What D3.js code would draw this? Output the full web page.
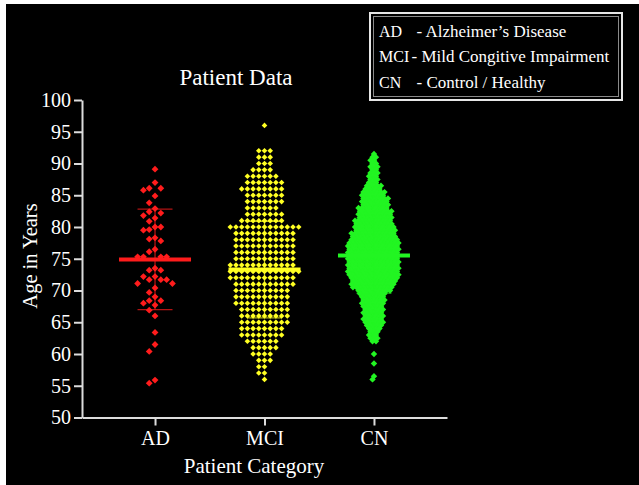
<!DOCTYPE html>
<html>
<head>
<meta charset="utf-8">
<script src="https://cdn.jsdelivr.net/npm/d3@7"></script>
<style>
  body { margin: 0; background: #fff; }
  svg { display: block; font-family: "Liberation Serif", "Times New Roman", serif; }
</style>
</head>
<body>
<svg id="chart"></svg>
<script>
'use strict';

// data
const categories = ["AD", "MCI", "CN"];

const adAges = [89.1, 87.0, 86.1, 86.1, 85.8, 84.9, 83.8, 82.9, 82.4, 82.2, 81.8, 81.4, 80.9,
  80.0, 80.0, 79.6, 79.5, 78.3, 78.1, 77.8, 76.5, 76.1, 75.3, 75.3, 75.3, 75.3, 73.5,
  73.2, 73.2, 72.2, 72.2, 71.7, 71.7, 71.7, 71.1, 71.1, 70.4, 69.7, 69.0, 68.4, 68.4,
  68.0, 67.7, 66.9, 66.0, 63.4, 61.5, 60.4, 55.9, 55.4];

// MCI: age (years) and number of patients at that age
const mciAges = [96, 92, 91, 90, 89, 88, 87, 86, 85, 84, 83, 82, 81, 80, 79, 78, 77, 76, 75,
  74, 73, 72, 71, 70, 69, 68, 67, 66, 65, 64, 63, 62, 61, 60, 59, 58, 57, 56];
const mciCounts = [1, 3, 3, 3, 4, 6, 7, 8, 7, 7, 6, 7, 8, 13, 11, 11, 11, 11, 11,
  12, 13, 12, 11, 10, 10, 10, 9, 9, 9, 8, 8, 6, 5, 4, 3, 2, 2, 1];

// CN: half-year ages and counts
const cnAges = [91.5, 91, 90.5, 90, 89.5, 89, 88.5, 88, 87.5, 87, 86.5, 86, 85.5, 85, 84.5, 84,
  83.5, 83, 82.5, 82, 81.5, 81, 80.5, 80, 79.5, 79, 78.5, 78, 77.5, 77, 76.5, 76, 75.5, 75,
  74.5, 74, 73.5, 73, 72.5, 72, 71.5, 71, 70.5, 70, 69.5, 69, 68.5, 68, 67.5, 67, 66.5, 66,
  65.5, 65, 64.5, 64, 63.5, 63, 62.5, 62, 60, 58.5, 56.5, 56];
const cnCounts = [1, 2, 2, 2, 3, 2, 3, 3, 3, 3, 5, 5, 7, 7, 8, 8,
  8, 9, 10, 10, 10, 11, 11, 12, 12, 13, 13, 14, 15, 15, 15, 15, 15, 15,
  15, 15, 15, 15, 15, 14, 13, 13, 12, 10, 8, 7, 7, 7, 6, 6, 6, 6,
  6, 6, 5, 4, 3, 3, 3, 2, 1, 1, 1, 1];

const groupMeans = [74.9, 73.3, 75.5];
const groupSDs = [7.9, 7.6, 5.9];

const legendAbbr = ["AD", "MCI", "CN"];
const legendText = ["- Alzheimer\u2019s Disease", "- Mild Congitive Impairment", "- Control / Healthy"];

const colors = ["#ff1c1c", "#ffff22", "#22f522"];
const markerR = [3.4, 2.8, 3.2];
// swarm packing: "box" keeps points in loose rows, "round" packs tightly
const packing = [
  { mode: "box", hx: 5.8, hy: 8 },
  { mode: "box", hx: 5.7, hy: 6.0 },
  { mode: "round", c: 3.5 }
];

const width = 639, height = 485;

const expand = (ages, counts) => ages.flatMap((a, i) => d3.range(counts[i]).map(() => a));
const groups = [adAges, expand(mciAges, mciCounts), expand(cnAges, cnCounts)];

const svg = d3.select("#chart").attr("width", width).attr("height", height);

svg.append("rect")
  .attr("x", 6).attr("y", 4)
  .attr("width", width - 6).attr("height", height - 4)
  .attr("fill", "#000");

const x = d3.scalePoint().domain(categories).range([82, 447]).padding(0.667);
const y = d3.scaleLinear().domain([50, 100]).range([417.5, 100]);

// simple beeswarm: each point goes to the free spot closest to the centre
function swarm(values, opt) {
  const pts = values.map(v => ({ v, y: y(v), x: 0 })).sort((a, b) => a.y - b.y);
  const placed = [];
  for (const p of pts) {
    let ivs;
    if (opt.mode === "round") {
      const c = opt.c;
      ivs = placed
        .filter(q => Math.abs(q.y - p.y) < c)
        .map(q => {
          const d = Math.sqrt(c * c - (q.y - p.y) ** 2);
          return [q.x - d, q.x + d];
        });
    } else {
      ivs = placed
        .filter(q => Math.abs(q.y - p.y) < opt.hy)
        .map(q => [q.x - opt.hx, q.x + opt.hx]);
    }
    const cands = [0, ...ivs.flat()].sort((a, b) => Math.abs(a) - Math.abs(b) || a - b);
    p.x = cands.find(cx => ivs.every(([a, b]) => cx <= a + 1e-6 || cx >= b - 1e-6));
    placed.push(p);
  }
  return pts;
}

const diamond = r => `M0,${-r}L${r},0L0,${r}L${-r},0Z`;

const plot = svg.append("g");

categories.forEach((cat, i) => {
  const cx = x(cat);
  const pts = swarm(groups[i], packing[i]);
  const g = plot.append("g").attr("transform", `translate(${cx},0)`);

  g.selectAll("path.dot")
    .data(pts)
    .join("path")
    .attr("class", "dot")
    .attr("d", diamond(markerR[i]))
    .attr("transform", d => `translate(${d.x},${d.y})`)
    .attr("fill", colors[i]);

  // mean and SD
  const m = groupMeans[i], s = groupSDs[i];
  g.append("line")
    .attr("x1", 0).attr("x2", 0)
    .attr("y1", y(m + s)).attr("y2", y(m - s))
    .attr("stroke", colors[i]).attr("stroke-width", 1.3).attr("opacity", 0.7);
  [m + s, m - s].forEach(v => {
    g.append("line")
      .attr("x1", -17.5).attr("x2", 17.5)
      .attr("y1", y(v)).attr("y2", y(v))
      .attr("stroke", colors[i]).attr("stroke-width", 1.3).attr("opacity", 0.7);
  });
  g.append("line")
    .attr("x1", -36).attr("x2", 36)
    .attr("y1", y(m)).attr("y2", y(m))
    .attr("stroke", colors[i]).attr("stroke-width", 4);
});

// axes
const yAxis = svg.append("g")
  .attr("transform", "translate(82,0)")
  .call(d3.axisLeft(y).tickValues(d3.range(50, 101, 5)).tickSize(8).tickSizeOuter(0).tickPadding(3));

const xAxis = svg.append("g")
  .attr("transform", `translate(0,${y(50)})`)
  .call(d3.axisBottom(x).tickSize(8).tickSizeOuter(0).tickPadding(5));

[yAxis, xAxis].forEach(a => {
  a.select(".domain").attr("stroke", "#dcdcdc").attr("stroke-width", 2);
  a.selectAll(".tick line").attr("stroke", "#dcdcdc").attr("stroke-width", 2);
  a.selectAll(".tick text")
    .attr("fill", "#fff")
    .style("font-size", "20px")
    .style("font-family", '"Liberation Serif", "Times New Roman", serif');
});

// titles
svg.append("text")
  .attr("x", 236).attr("y", 85)
  .attr("text-anchor", "middle")
  .attr("fill", "#fff")
  .style("font-size", "23px")
  .text("Patient Data");

svg.append("text")
  .attr("x", 254).attr("y", 472.5)
  .attr("text-anchor", "middle")
  .attr("fill", "#fff")
  .style("font-size", "21px")
  .text("Patient Category");

svg.append("text")
  .attr("transform", "translate(37,256) rotate(-90)")
  .attr("text-anchor", "middle")
  .attr("fill", "#fff")
  .style("font-size", "20.5px")
  .text("Age in Years");

// legend box
const legend = svg.append("g");
legend.append("rect")
  .attr("x", 370).attr("y", 13).attr("width", 252).attr("height", 87)
  .attr("fill", "#000").attr("stroke", "#e6e6e6").attr("stroke-width", 2);
legend.append("rect")
  .attr("x", 373.5).attr("y", 16.5).attr("width", 245).attr("height", 80)
  .attr("fill", "none").attr("stroke", "#8a8a8a").attr("stroke-width", 1);

const descX = [416.5, 411.5, 416.5];
const descBase = [36.7, 62.3, 88.3];
legendAbbr.forEach((a, i) => {
  const t = legend.append("text")
    .attr("x", 379).attr("y", descBase[i])
    .attr("fill", "#fff")
    .style("font-size", "17px");
  t.append("tspan").style("font-size", "16px").text(a);
  t.append("tspan").attr("x", descX[i]).text(legendText[i]);
});
</script>
</body>
</html>
